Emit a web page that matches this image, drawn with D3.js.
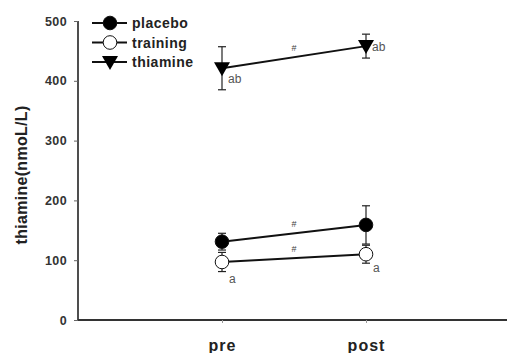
<!DOCTYPE html>
<html><head><meta charset="utf-8">
<script src="https://cdn.jsdelivr.net/npm/d3@7"></script>
<style>body{margin:0;background:#fff}svg{display:block}text{font-family:Arial,"Liberation Sans",sans-serif}</style>
</head><body><div id="c"></div>
<script>
const categories = ["pre", "post"];
const seriesNames = ["placebo", "training", "thiamine"];
const placeboMean = [131, 159];
const placeboErr = [14, 32];
const trainingMean = [97, 110];
const trainingErr = [16, 15];
const thiamineMean = [421, 458];
const thiamineErr = [36, 20];
const yTicks = [0, 100, 200, 300, 400, 500];
const sigLabels = [
  {series: "thiamine", idx: 0, text: "ab"},
  {series: "thiamine", idx: 1, text: "ab"},
  {series: "training", idx: 0, text: "a"},
  {series: "training", idx: 1, text: "a"}
];

const W = 507, H = 353;
const svg = d3.select("#c").append("svg").attr("width", W).attr("height", H);
const x = d3.scaleLinear().domain([0, 3]).range([78, 510]);
const y = d3.scaleLinear().domain([0, 500]).range([320, 21]);
const xPos = c => x(categories.indexOf(c) + 1);

// axes
const yAxis = svg.append("g").attr("transform", "translate(78,0)")
  .call(d3.axisLeft(y).tickValues(yTicks).tickSize(4).tickPadding(7));
yAxis.select(".domain").attr("stroke", "#222").attr("stroke-width", 1.6).attr("d", `M0,${y(500)}V${y(0)}`);
yAxis.selectAll(".tick line").attr("stroke", "#666");
yAxis.selectAll(".tick text").attr("font-size", 12.5).attr("font-weight", "bold").attr("fill", "#333")
  .attr("letter-spacing", 0.4);

const xAxis = svg.append("g").attr("transform", "translate(0,320)")
  .call(d3.axisBottom(x).tickValues([1, 2]).tickFormat(d => categories[d - 1]).tickSize(3).tickPadding(17));
xAxis.select(".domain").attr("stroke", "#333").attr("stroke-width", 2).attr("d", "M78,0H507");
xAxis.selectAll(".tick line").attr("stroke", "#999");
xAxis.selectAll(".tick text").attr("font-size", 16).attr("font-weight", "bold").attr("fill", "#222")
  .attr("letter-spacing", 1);

svg.append("text").attr("transform", `translate(27,175) rotate(-90)`)
  .attr("text-anchor", "middle").attr("font-size", 16).attr("font-weight", "bold").attr("fill", "#222")
  .attr("letter-spacing", 0.3)
  .text("thiamine(nmoL/L)");

const series = [
  {name: "placebo", mean: placeboMean, err: placeboErr, shape: "circle", fill: "#000"},
  {name: "training", mean: trainingMean, err: trainingErr, shape: "circle", fill: "#fff"},
  {name: "thiamine", mean: thiamineMean, err: thiamineErr, shape: "triangle", fill: "#000"}
];
const line = d3.line().x((d, i) => xPos(categories[i])).y(d => y(d));

function marker(g, s, cx, cy) {
  if (s.shape === "circle") {
    g.append("circle").attr("cx", cx).attr("cy", cy).attr("r", 6.8)
      .attr("fill", s.fill).attr("stroke", "#111").attr("stroke-width", 1);
  } else {
    g.append("path").attr("transform", `translate(${cx},${cy})`)
      .attr("d", "M-8,-6L8,-6L0,8Z").attr("fill", "#000");
  }
}

series.forEach(s => {
  const g = svg.append("g");
  s.mean.forEach((m, i) => {
    const cx = xPos(categories[i]);
    g.append("line").attr("x1", cx).attr("x2", cx).attr("y1", y(m + s.err[i])).attr("y2", y(m - s.err[i]))
      .attr("stroke", "#222").attr("stroke-width", 1.2);
    [m + s.err[i], m - s.err[i]].forEach(v => g.append("line").attr("x1", cx - 4).attr("x2", cx + 4)
      .attr("y1", y(v)).attr("y2", y(v)).attr("stroke", "#222").attr("stroke-width", 1.2));
  });
  g.append("path").attr("d", line(s.mean)).attr("fill", "none").attr("stroke", "#111").attr("stroke-width", 2);
  const mx = (xPos(categories[0]) + xPos(categories[1])) / 2;
  const my = (y(s.mean[0]) + y(s.mean[1])) / 2;
  g.append("text").attr("x", mx).attr("y", my - 6).attr("text-anchor", "middle")
    .attr("font-size", 9).attr("fill", "#444").text("#");
  s.mean.forEach((m, i) => marker(g, s, xPos(categories[i]), y(m)));
});

sigLabels.forEach(l => {
  const s = series.find(d => d.name === l.series);
  const cx = xPos(categories[l.idx]);
  const cy = y(s.mean[l.idx]);
  const dy = l.series === "thiamine" ? (l.idx === 0 ? 15 : 5) : (l.idx === 0 ? 21 : 18);
  const dx = l.series === "thiamine" ? 6 : 7;
  svg.append("text").attr("x", cx + dx).attr("y", cy + dy).attr("font-size", 12).attr("fill", "#555").text(l.text);
});

series.forEach((s, i) => {
  const ly = 23 + i * 19.5;
  const g = svg.append("g");
  g.append("line").attr("x1", 92).attr("x2", 127).attr("y1", ly).attr("y2", ly).attr("stroke", "#111").attr("stroke-width", 2);
  marker(g, s, 110, ly);
  g.append("text").attr("x", 132).attr("y", ly + 5).attr("font-size", 14).attr("font-weight", "bold").attr("fill", "#222")
    .attr("letter-spacing", 0.5).text(s.name);
});
</script></body></html>
